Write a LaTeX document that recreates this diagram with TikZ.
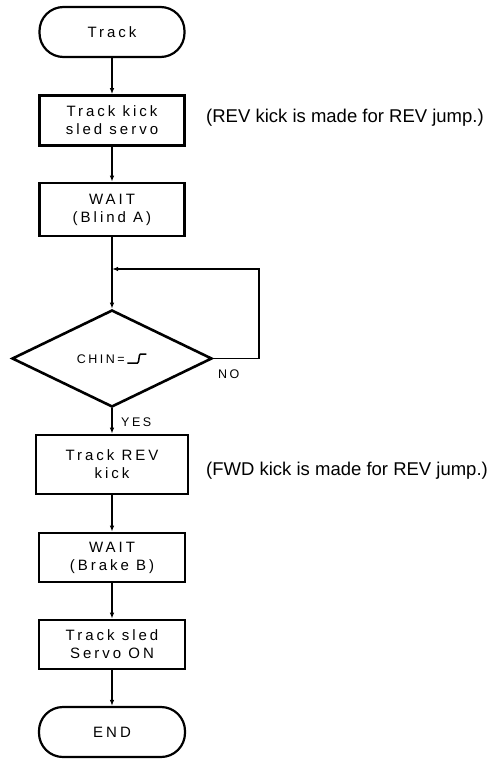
\documentclass[tikz,border=0pt]{standalone}
\usepackage{fontspec}
\setmainfont{Liberation Sans}
\newfontfamily\flowfont[LetterSpace=20]{Liberation Sans}
\usetikzlibrary{arrows.meta,shapes.geometric}

% rising edge symbol for the decision text
\newcommand{\risingedge}{\tikz[baseline=0pt]{\draw[line width=1.5pt] (0pt,0pt) -- (10pt,0pt) .. controls (12pt,0pt) and (11pt,9pt) .. (13pt,9pt) -- (19pt,9pt);}}

\begin{document}
\begin{tikzpicture}[x=1pt, y=-1pt,
  term/.style={draw, line width=2.2pt, rounded corners=24pt, minimum width=145pt, minimum height=50pt, font=\flowfont\fontsize{15}{18}\selectfont},
  proc/.style={draw, line width=2.6pt, align=center, minimum width=145pt, minimum height=50pt, font=\flowfont\fontsize{15}{18}\selectfont},
  cond/.style={draw, diamond, line width=2.6pt, minimum width=200pt, minimum height=97pt, inner sep=0pt, font=\flowfont\fontsize{12.5}{14}\selectfont},
  arr/.style={-{Latex[length=6pt,width=4.5pt]}, line width=1.2pt},
  note/.style={anchor=west, inner sep=0pt, font=\fontsize{18.5}{21}\selectfont},
  lbl/.style={inner sep=0pt, font=\flowfont\fontsize{12.5}{14}\selectfont}]
\useasboundingbox (0,0) rectangle (491,760);
\node[term] (start) at (112,32) {Track};
\node[proc] (kick) at (112,120.5) {Track kick\\sled servo};
\node[proc, minimum height=53pt] (waita) at (112,209.5) {WAIT\\(Blind A)};
\node[cond] (chin) at (112,358.5) {CHIN=\,\risingedge\hspace{10pt}};
\node[proc, minimum width=152pt, minimum height=59pt] (rev) at (112,464.5) {Track REV\\kick};
\node[proc, minimum width=146pt, minimum height=49pt] (waitb) at (112,557.5) {WAIT\\(Brake B)};
\node[proc, minimum width=146pt, minimum height=49pt] (servo) at (112,644.5) {Track sled\\Servo ON};
\node[term, minimum width=146pt] (stop) at (112,732) {END};
\node[note] (revnote) at (206,118) {(REV kick is made for REV jump.)};
\node[note] (fwdnote) at (206,471) {(FWD kick is made for REV jump.)};
\node[lbl, anchor=west] (no) at (218,374) {NO};
\node[lbl, anchor=west] (yes) at (121,422) {YES};
\coordinate (loopin) at (112,269);
\coordinate (loopcorner) at (259,269);
\draw[arr] (start) -- (kick);
\draw[arr] (kick) -- (waita);
\draw[arr] (waita) -- (chin);
\draw[arr] (chin.east) -| (loopcorner) -- (loopin);
\draw[arr] (chin) -- (rev);
\draw[arr] (rev) -- (waitb);
\draw[arr] (waitb) -- (servo);
\draw[arr] (servo) -- (stop);
\end{tikzpicture}
\end{document}
